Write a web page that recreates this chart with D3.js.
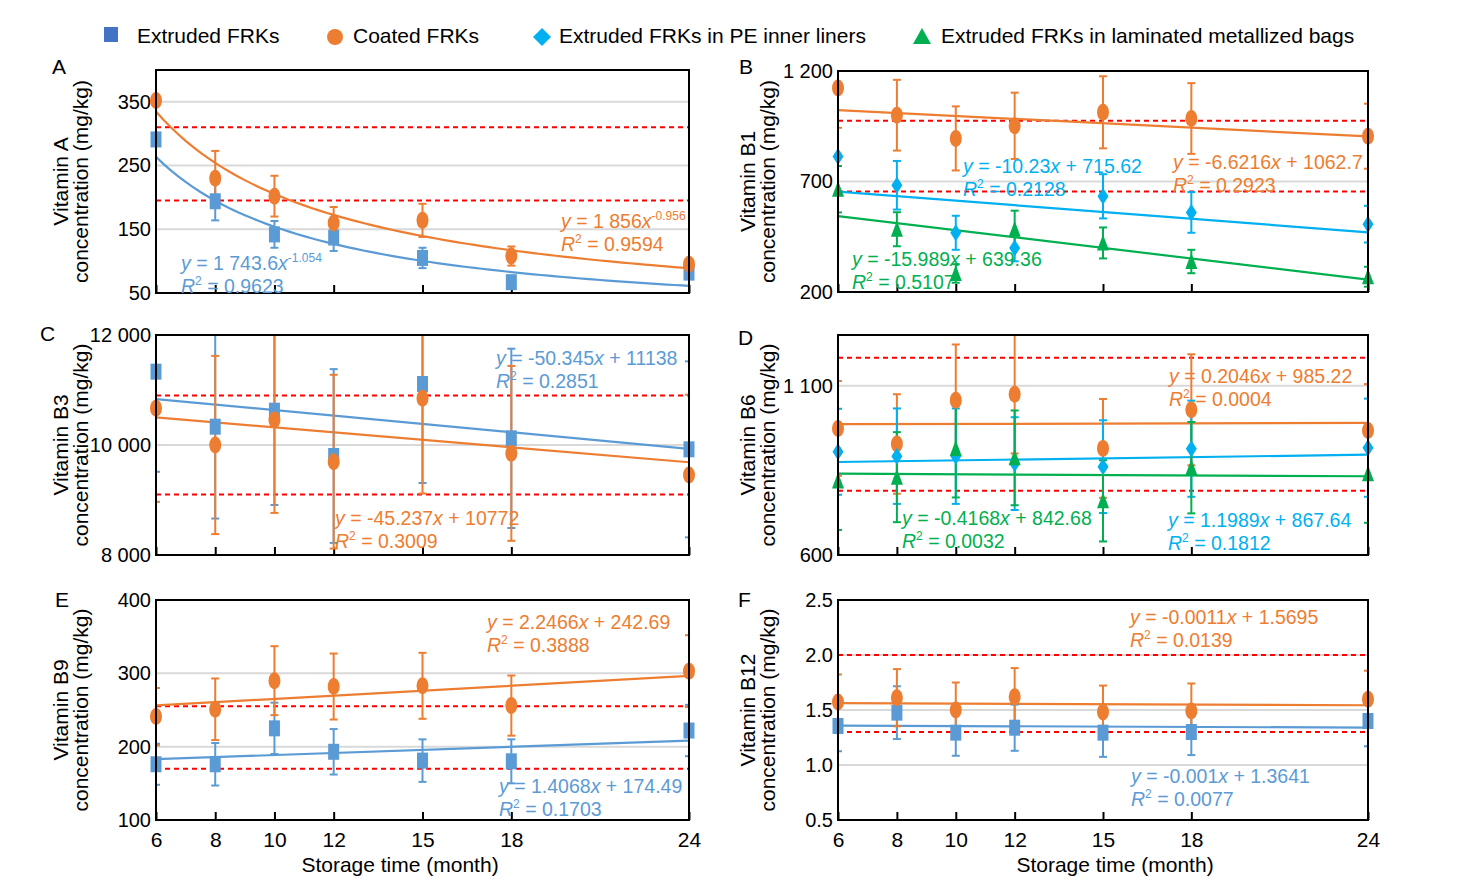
<!DOCTYPE html>
<html lang="en">
<head>
<meta charset="UTF-8"/>
<title>Vitamin concentration in FRKs over storage time</title>
<script src="https://d3js.org/d3.v7.min.js"></script>
<style type="text/css">
  body { margin: 0; background: #fff; }
  svg text { font-family: "Liberation Sans", Arial, sans-serif; }
  .frame { fill: none; stroke: #000; stroke-width: 2; }
  .grid { stroke: #d9d9d9; stroke-width: 2; }
  .limit { stroke: #ff0000; stroke-width: 2; stroke-dasharray: 5, 4; }
  .trend { fill: none; stroke-width: 2.2; }
  .err { stroke-width: 2; }
</style>
</head>
<body>
<script>

// storage time, months
var months = [6, 8, 10, 12, 15, 18, 24];

// A - vitamin A
var aExtruded = [291, 194, 142, 137, 105, 67, 82];
var aExtrudedErr = [0, 30, 21, 21, 16, 5, 8];
var aCoated = [352, 230, 202, 160, 164, 108, 95];
var aCoatedErr = [0, 43, 32, 25, 26, 15, 6];
var aExtrudedFit = {a: 1743.6, b: -1.054, r2: 0.9623};
var aCoatedFit = {a: 1856, b: -0.956, r2: 0.9594};
var aLimits = [310, 195];

// B - vitamin B1
var b1Coated = [1123, 1000, 895, 952, 1013, 985, 905];
var b1CoatedErr = [180, 160, 145, 150, 163, 160, 147];
var b1PE = [813, 683, 468, 399, 633, 560, 507];
var b1PEErr = [0, 110, 77, 60, 100, 92, 83];
var b1Lam = [665, 484, 284, 484, 422, 338, 269];
var b1LamErr = [105, 77, 42, 84, 70, 53, 45];
var b1CoatedFit = {a: -6.6216, b: 1062.7, r2: 0.2923};
var b1PEFit = {a: -10.23, b: 715.62, r2: 0.2128};
var b1LamFit = {a: -15.989, b: 639.36, r2: 0.5107};
var b1Limits = [975, 655];

// C - vitamin B3
var b3Extruded = [11333, 10333, 10624, 9800, 11109, 10121, 9921];
var b3ExtrudedErr = [1820, 1670, 1715, 1580, 1800, 1630, 1600];
var b3Coated = [10667, 10000, 10455, 9697, 10848, 9848, 9455];
var b3CoatedErr = [1700, 1620, 1690, 1580, 1730, 1590, 1460];
var b3ExtrudedFit = {a: -50.345, b: 11138, r2: 0.2851};
var b3CoatedFit = {a: -45.237, b: 10772, r2: 0.3009};
var b3Limits = [10900, 9100];

// D - vitamin B6
var b6Coated = [974, 928, 1057, 1075, 915, 1029, 968];
var b6CoatedErr = [140, 147, 165, 175, 146, 164, 137];
var b6PE = [905, 892, 892, 870, 861, 914, 917];
var b6PEErr = [127, 141, 141, 137, 137, 142, 145];
var b6Lam = [819, 830, 915, 887, 760, 858, 840];
var b6LamErr = [145, 133, 145, 140, 120, 135, 145];
var b6CoatedFit = {a: 0.2046, b: 985.22, r2: 0.0004};
var b6PEFit = {a: 1.1989, b: 867.64, r2: 0.1812};
var b6LamFit = {a: -0.4168, b: 842.68, r2: 0.0032};
var b6Limits = [1183, 790];

// E - vitamin B9
var b9Extruded = [176, 176, 225, 193, 181, 180, 222];
var b9ExtrudedErr = [28, 29, 35, 31, 29, 30, 35];
var b9Coated = [241, 251, 290, 282, 283, 256, 303];
var b9CoatedErr = [39, 42, 47, 45, 45, 41, 49];
var b9ExtrudedFit = {a: 1.4068, b: 174.49, r2: 0.1703};
var b9CoatedFit = {a: 2.2466, b: 242.69, r2: 0.3888};
var b9Limits = [255, 170];

// F - vitamin B12
var b12Extruded = [1.355, 1.476, 1.294, 1.339, 1.294, 1.30, 1.40];
var b12ExtrudedErr = [0.23, 0.24, 0.21, 0.21, 0.22, 0.21, 0.23];
var b12Coated = [1.573, 1.612, 1.50, 1.621, 1.482, 1.491, 1.597];
var b12CoatedErr = [0.25, 0.26, 0.25, 0.26, 0.24, 0.25, 0.26];
var b12ExtrudedFit = {a: -0.001, b: 1.3641, r2: 0.0077};
var b12CoatedFit = {a: -0.0011, b: 1.5695, r2: 0.0139};
var b12Limits = [2.0, 1.3];

var legendLabels = ["Extruded FRKs", "Coated FRKs", "Extruded FRKs in PE inner liners",
                    "Extruded FRKs in laminated metallized bags"];

// colours / symbols per package type
var styles = {
  extruded: {color: "#5b9bd5", legend: "#4472c4", shape: "square"},
  coated:   {color: "#ed7d31", legend: "#ed7d31", shape: "circle"},
  pe:       {color: "#00b0f0", legend: "#00b0f0", shape: "diamond"},
  lam:      {color: "#00b050", legend: "#00b050", shape: "triangle"}
};

function spaced(v) { return d3.format(",")(v).replace(/,/g, " "); }

var panels = [
  {letter: "A", title: "Vitamin A", left: 156, top: 70, bottom: 293, domain: [50, 400],
   ticks: [50, 150, 250, 350], fmt: spaced, limits: aLimits, letterPos: [52, 74],
   series: [
     {key: "extruded", v: aExtruded, e: aExtrudedErr, fit: aExtrudedFit, power: true, lab: [181, 263]},
     {key: "coated", v: aCoated, e: aCoatedErr, fit: aCoatedFit, power: true, lab: [561, 221]}
   ]},
  {letter: "B", title: "Vitamin B1", left: 838, top: 71, bottom: 292, domain: [200, 1200],
   ticks: [200, 700, 1200], fmt: spaced, limits: b1Limits, letterPos: [739, 74],
   series: [
     {key: "coated", v: b1Coated, e: b1CoatedErr, fit: b1CoatedFit, lab: [1173, 162]},
     {key: "pe", v: b1PE, e: b1PEErr, fit: b1PEFit, lab: [963, 166]},
     {key: "lam", v: b1Lam, e: b1LamErr, fit: b1LamFit, lab: [852, 259]}
   ]},
  {letter: "C", title: "Vitamin B3", left: 156, top: 335, bottom: 555, domain: [8000, 12000],
   ticks: [8000, 10000, 12000], fmt: spaced, limits: b3Limits, letterPos: [40, 341],
   series: [
     {key: "extruded", v: b3Extruded, e: b3ExtrudedErr, fit: b3ExtrudedFit, lab: [496, 358]},
     {key: "coated", v: b3Coated, e: b3CoatedErr, fit: b3CoatedFit, lab: [335, 518]}
   ]},
  {letter: "D", title: "Vitamin B6", left: 838, top: 335, bottom: 555, domain: [600, 1250],
   ticks: [600, 1100], fmt: spaced, limits: b6Limits, letterPos: [738, 345],
   series: [
     {key: "coated", v: b6Coated, e: b6CoatedErr, fit: b6CoatedFit, lab: [1169, 376]},
     {key: "pe", v: b6PE, e: b6PEErr, fit: b6PEFit, lab: [1168, 520]},
     {key: "lam", v: b6Lam, e: b6LamErr, fit: b6LamFit, lab: [902, 518]}
   ]},
  {letter: "E", title: "Vitamin B9", left: 156, top: 600, bottom: 820, domain: [100, 400],
   ticks: [100, 200, 300, 400], fmt: spaced, limits: b9Limits, letterPos: [55, 607], xlabels: true,
   series: [
     {key: "extruded", v: b9Extruded, e: b9ExtrudedErr, fit: b9ExtrudedFit, lab: [499, 786]},
     {key: "coated", v: b9Coated, e: b9CoatedErr, fit: b9CoatedFit, lab: [487, 622]}
   ]},
  {letter: "F", title: "Vitamin B12", left: 838, top: 600, bottom: 820, domain: [0.5, 2.5],
   ticks: [0.5, 1.0, 1.5, 2.0, 2.5], fmt: d3.format(".1f"), limits: b12Limits, letterPos: [738, 607], xlabels: true,
   series: [
     {key: "extruded", v: b12Extruded, e: b12ExtrudedErr, fit: b12ExtrudedFit, lab: [1131, 776]},
     {key: "coated", v: b12Coated, e: b12CoatedErr, fit: b12CoatedFit, lab: [1130, 617]}
   ]}
];

var plotWidth = {156: 533, 838: 530};

var svg = d3.select("body").append("svg")
    .attr("width", 1471)
    .attr("height", 887);

function marker(g, shape, color, x, y) {
  if (shape === "square") {
    g.append("rect").attr("x", x - 5.5).attr("y", y - 8)
      .attr("width", 11).attr("height", 16).attr("fill", color);
  } else if (shape === "circle") {
    g.append("ellipse").attr("cx", x).attr("cy", y)
      .attr("rx", 6).attr("ry", 8.5).attr("fill", color);
  } else if (shape === "diamond") {
    g.append("path").attr("fill", color)
      .attr("d", "M" + x + "," + (y - 8.5) + "L" + (x + 5.5) + "," + y +
                 "L" + x + "," + (y + 8.5) + "L" + (x - 5.5) + "," + y + "Z");
  } else {
    g.append("path").attr("fill", color)
      .attr("d", "M" + x + "," + (y - 8.5) + "L" + (x + 6) + "," + (y + 7.5) +
                 "L" + (x - 6) + "," + (y + 7.5) + "Z");
  }
}

// legend
var legendX = [[111, 137], [335, 353], [542, 559], [922, 941]];
["extruded", "coated", "pe", "lam"].forEach(function(k, i) {
  var st = styles[k];
  var lg = svg.append("g");
  if (st.shape === "square") {
    lg.append("rect").attr("x", legendX[i][0] - 7).attr("y", 27).attr("width", 14).attr("height", 15).attr("fill", st.legend);
  } else if (st.shape === "circle") {
    lg.append("circle").attr("cx", legendX[i][0]).attr("cy", 37).attr("r", 8).attr("fill", st.legend);
  } else if (st.shape === "diamond") {
    lg.append("path").attr("fill", st.legend)
      .attr("d", "M" + legendX[i][0] + ",28l9,9l-9,9l-9,-9z");
  } else {
    lg.append("path").attr("fill", st.legend)
      .attr("d", "M" + legendX[i][0] + ",28l9,16l-18,0z");
  }
  lg.append("text").attr("x", legendX[i][1]).attr("y", 43)
    .attr("font-size", 21).text(legendLabels[i]);
});

function eqLabel(g, s, color) {
  var x = s.lab[0], y = s.lab[1] + 7;
  var t = g.append("text").attr("x", x).attr("y", y).attr("font-size", 19.5).attr("fill", color);
  t.append("tspan").attr("font-style", "italic").text("y");
  if (s.power) {
    t.append("tspan").text(" = " + spaced(s.fit.a));
    t.append("tspan").attr("font-style", "italic").text("x");
    t.append("tspan").attr("font-size", 12).attr("dy", -8).text(s.fit.b);
  } else {
    t.append("tspan").text(" = " + s.fit.a);
    t.append("tspan").attr("font-style", "italic").text("x");
    t.append("tspan").text(" + " + s.fit.b);
  }
  var r = g.append("text").attr("x", x).attr("y", y + 23).attr("font-size", 19.5).attr("fill", color);
  r.append("tspan").attr("font-style", "italic").text("R");
  r.append("tspan").attr("font-size", 12).attr("dy", -8).text("2");
  r.append("tspan").attr("dy", 8).text(" = " + s.fit.r2);
}

panels.forEach(function(p, pi) {
  var w = plotWidth[p.left];
  var x = d3.scaleLinear().domain([6, 24]).range([p.left, p.left + w]);
  var y = d3.scaleLinear().domain(p.domain).range([p.bottom, p.top]);
  var g = svg.append("g");

  var clipId = "clip" + pi;
  svg.append("clipPath").attr("id", clipId).append("rect")
    .attr("x", p.left).attr("y", p.top).attr("width", w).attr("height", p.bottom - p.top);

  // gridlines at inner ticks
  g.selectAll(".grid").data(p.ticks.filter(function(t) { return t > p.domain[0] && t < p.domain[1]; }))
    .enter().append("line").attr("class", "grid")
    .attr("x1", p.left).attr("x2", p.left + w)
    .attr("y1", function(d) { return y(d); }).attr("y2", function(d) { return y(d); });

  // limit lines
  g.selectAll(".limit").data(p.limits).enter().append("line").attr("class", "limit")
    .attr("x1", p.left).attr("x2", p.left + w)
    .attr("y1", function(d) { return y(d); }).attr("y2", function(d) { return y(d); });

  // y axis
  var ya = g.append("g").attr("transform", "translate(" + p.left + ",0)")
    .call(d3.axisLeft(y).tickValues(p.ticks).tickFormat(p.fmt).tickSize(0).tickPadding(5));
  ya.select(".domain").remove();
  ya.selectAll("text").attr("font-size", 20).attr("fill", "#000")
    .attr("font-family", "Liberation Sans, Arial, sans-serif");

  // x axis: inward ticks
  var xa = g.append("g").attr("transform", "translate(0," + p.bottom + ")")
    .call(d3.axisBottom(x).tickValues(months).tickSizeInner(-8).tickSizeOuter(0).tickPadding(12)
      .tickFormat(p.xlabels ? d3.format("d") : ""));
  xa.select(".domain").remove();
  xa.selectAll("line").attr("stroke", "#000").attr("stroke-width", 2);
  xa.selectAll("text").attr("font-size", 21).attr("fill", "#000")
    .attr("font-family", "Liberation Sans, Arial, sans-serif");

  var inner = g.append("g").attr("clip-path", "url(#" + clipId + ")");

  // trend lines
  p.series.forEach(function(s) {
    var color = styles[s.key].color;
    var f = s.power ? function(m) { return s.fit.a * Math.pow(m, s.fit.b); }
                    : function(m) { return s.fit.a * m + s.fit.b; };
    var pts = s.power ? d3.range(6, 24.01, 0.25) : [6, 24];
    inner.append("path").datum(pts).attr("class", "trend").attr("stroke", color)
      .attr("d", d3.line().x(function(m) { return x(m); }).y(function(m) { return y(f(m)); }));
  });

  // error bars
  p.series.forEach(function(s) {
    var color = styles[s.key].color;
    months.forEach(function(m, i) {
      if (!s.e[i]) return;
      var cx = x(m), y1 = y(s.v[i] + s.e[i]), y2 = y(s.v[i] - s.e[i]);
      inner.append("line").attr("class", "err").attr("stroke", color)
        .attr("x1", cx).attr("x2", cx).attr("y1", y1).attr("y2", y2);
      [y1, y2].forEach(function(yy) {
        inner.append("line").attr("class", "err").attr("stroke", color)
          .attr("x1", cx - 4).attr("x2", cx + 4).attr("y1", yy).attr("y2", yy);
      });
    });
  });

  // markers
  p.series.forEach(function(s) {
    var st = styles[s.key];
    months.forEach(function(m, i) { marker(g, st.shape, st.color, x(m), y(s.v[i])); });
  });

  // frame
  g.append("rect").attr("class", "frame")
    .attr("x", p.left).attr("y", p.top).attr("width", w).attr("height", p.bottom - p.top);

  // equations
  p.series.forEach(function(s) { eqLabel(g, s, styles[s.key].color); });

  // panel letter
  g.append("text").attr("x", p.letterPos[0]).attr("y", p.letterPos[1])
    .attr("font-size", 21).text(p.letter);

  // y title (two lines)
  var base = p.left < 500 ? 68 : 755;
  var midY = (p.top + p.bottom) / 2;
  [p.title, "concentration (mg/kg)"].forEach(function(line, li) {
    g.append("text")
      .attr("transform", "translate(" + (base + li * 20) + "," + midY + ") rotate(-90)")
      .attr("text-anchor", "middle").attr("font-size", 21).text(line);
  });

  if (p.xlabels) {
    g.append("text").attr("x", p.left < 500 ? 400 : 1115).attr("y", 872)
      .attr("text-anchor", "middle").attr("font-size", 21).text("Storage time (month)");
  }
});

</script>
</body>
</html>
